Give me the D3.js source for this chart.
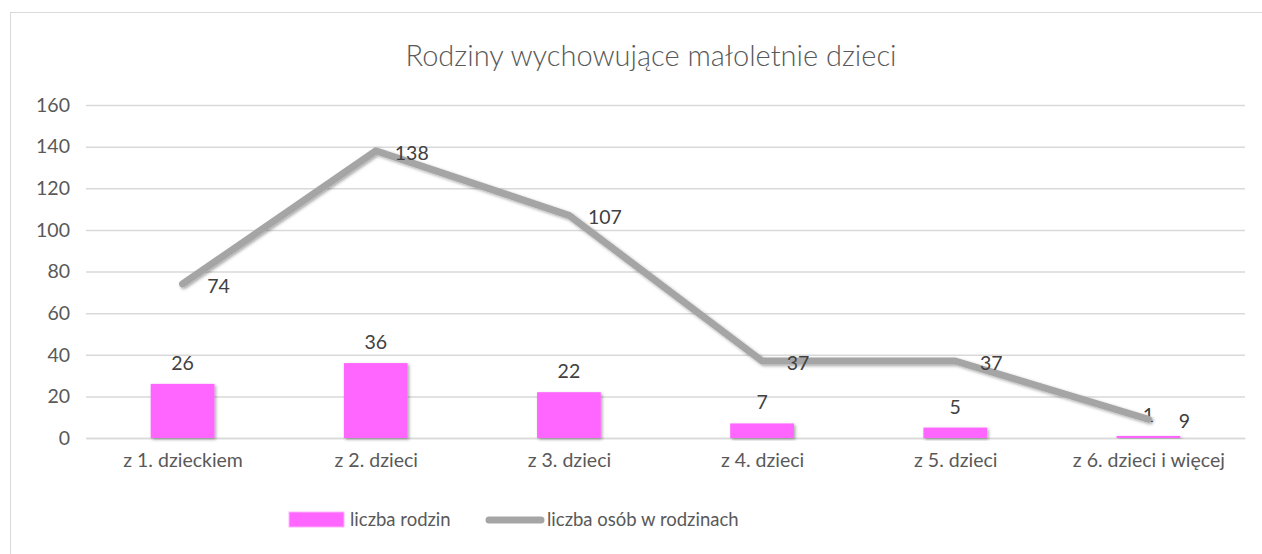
<!DOCTYPE html>
<html>
<head>
<meta charset="utf-8">
<script src="https://cdn.jsdelivr.net/npm/d3@7"></script>
<style>
  body { margin: 0; background: #fff; }
  svg { display: block; font-family: Lato, "Open Sans", sans-serif; }
</style>
</head>
<body>
<svg id="chart" width="1262" height="554"></svg>
<script>
// data
var categories = ["z 1. dzieckiem", "z 2. dzieci", "z 3. dzieci", "z 4. dzieci", "z 5. dzieci", "z 6. dzieci i więcej"];
var families = [26, 36, 22, 7, 5, 1];
var persons = [74, 138, 107, 37, 37, 9];
var yTicks = [0, 20, 40, 60, 80, 100, 120, 140, 160];
var seriesNames = ["liczba rodzin", "liczba osób w rodzinach"];

var svg = d3.select("#chart");
var width = 1262, height = 554;
var margin = { top: 105, right: 17, bottom: 116, left: 86 };

// chart frame
svg.append("rect")
  .attr("x", 10.5).attr("y", 12.5)
  .attr("width", 1300).attr("height", 600)
  .attr("fill", "#fff").attr("stroke", "#d9d9d9");

var defs = svg.append("defs");
var f = defs.append("filter").attr("id", "shadow")
  .attr("x", "-20%").attr("y", "-20%").attr("width", "140%").attr("height", "140%");
f.append("feDropShadow").attr("dx", 1.5).attr("dy", 1.5).attr("stdDeviation", 1.5)
  .attr("flood-color", "#000").attr("flood-opacity", 0.35);

svg.append("text")
  .attr("x", 651).attr("y", 66)
  .attr("text-anchor", "middle")
  .attr("font-size", 29).attr("font-weight", 300)
  .attr("fill", "#595959")
  .text("Rodziny wychowujące małoletnie dzieci");

var x = d3.scaleBand().domain(categories)
  .range([margin.left, width - margin.right])
  .paddingInner(0.67).paddingOuter(0.335);
var xc = d3.scalePoint().domain(categories)
  .range([margin.left, width - margin.right]).padding(0.5);
var y = d3.scaleLinear().domain([0, 160]).range([height - margin.bottom, margin.top]);

// gridlines
var yAxis = svg.append("g")
  .attr("transform", "translate(" + margin.left + ",0)")
  .call(d3.axisLeft(y).tickValues(yTicks).tickSize(-(width - margin.left - margin.right)).tickPadding(16));
yAxis.select(".domain").remove();
yAxis.selectAll(".tick line").attr("stroke", "#d9d9d9").attr("stroke-width", 1.5);
yAxis.selectAll(".tick text").attr("fill", "#595959").attr("font-size", 19.5)
  .attr("font-family", "Lato, sans-serif");

// category axis
var xAxis = svg.append("g")
  .attr("transform", "translate(0," + y(0) + ")")
  .call(d3.axisBottom(xc).tickSize(0).tickPadding(15));
xAxis.select(".domain").attr("stroke", "#d9d9d9").attr("stroke-width", 1.5);
xAxis.selectAll(".tick text").attr("fill", "#595959").attr("font-size", 19.5)
  .attr("font-family", "Lato, sans-serif");

// bars
svg.append("g").selectAll("rect").data(families).join("rect")
  .attr("x", function (d, i) { return x(categories[i]); })
  .attr("y", function (d) { return y(d); })
  .attr("width", x.bandwidth())
  .attr("height", function (d) { return y(0) - y(d); })
  .attr("fill", "#ff66ff")
  .attr("filter", "url(#shadow)");

svg.append("g").selectAll("text").data(families).join("text")
  .attr("x", function (d, i) { return xc(categories[i]); })
  .attr("y", function (d) { return y(d) - 14; })
  .attr("text-anchor", "middle")
  .attr("font-size", 19.5).attr("fill", "#404040")
  .text(function (d) { return d; });

// line
var line = d3.line()
  .x(function (d, i) { return xc(categories[i]); })
  .y(function (d) { return y(d); });

svg.append("path").datum(persons)
  .attr("d", line)
  .attr("fill", "none")
  .attr("stroke", "#a5a5a5")
  .attr("stroke-width", 7)
  .attr("stroke-linejoin", "round")
  .attr("stroke-linecap", "round")
  .attr("filter", "url(#shadow)");

svg.append("g").selectAll("text").data(persons).join("text")
  .attr("x", function (d, i) { return xc(categories[i]) + 36; })
  .attr("y", function (d) { return y(d) + 9; })
  .attr("text-anchor", "middle")
  .attr("font-size", 19.5).attr("fill", "#404040")
  .text(function (d) { return d; });

// legend
var lg = svg.append("g").attr("transform", "translate(0,520)");
lg.append("rect").attr("x", 289).attr("y", -8).attr("width", 55).attr("height", 15)
  .attr("fill", "#ff66ff").attr("stroke", "#ffb3ff");
lg.append("text").attr("x", 350).attr("y", 6).attr("font-size", 18.5).attr("fill", "#595959")
  .text(seriesNames[0]);
lg.append("line").attr("x1", 489).attr("x2", 541).attr("y1", 0).attr("y2", 0)
  .attr("stroke", "#a5a5a5").attr("stroke-width", 7).attr("stroke-linecap", "round");
lg.append("text").attr("x", 547).attr("y", 6).attr("font-size", 18.5).attr("fill", "#595959")
  .text(seriesNames[1]);
</script>
</body>
</html>
